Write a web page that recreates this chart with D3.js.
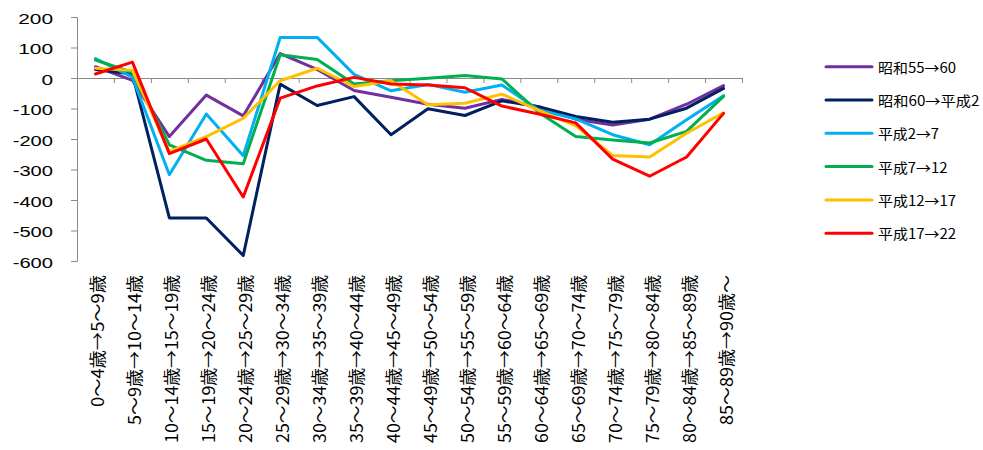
<!DOCTYPE html>
<html>
<head>
<meta charset="utf-8">
<script src="https://cdn.jsdelivr.net/npm/d3@7"></script>
<style>
  html, body { margin: 0; padding: 0; background: #fff; }
  svg { display: block; }
</style>
</head>
<body>
<svg id="chart" width="983" height="450"></svg>
<script>
// ---- data ----
const categories = [
  "0～4歳→5～9歳", "5～9歳→10～14歳", "10～14歳→15～19歳", "15～19歳→20～24歳",
  "20～24歳→25～29歳", "25～29歳→30～34歳", "30～34歳→35～39歳", "35～39歳→40～44歳",
  "40～44歳→45～49歳", "45～49歳→50～54歳", "50～54歳→55～59歳", "55～59歳→60～64歳",
  "60～64歳→65～69歳", "65～69歳→70～74歳", "70～74歳→75～79歳", "75～79歳→80～84歳",
  "80～84歳→85～89歳", "85～89歳→90歳～"
];
const seriesNames = ["昭和55→60", "昭和60→平成2", "平成2→7", "平成7→12", "平成12→17", "平成17→22"];
const s55to60   = [37, -8, -192, -56, -124, 80, 28, -41, -63, -86, -99, -70, -95, -135, -154, -135, -86, -25];
const s60toH2   = [28, 13, -459, -459, -582, -20, -90, -61, -186, -101, -123, -75, -94, -126, -145, -135, -99, -34];
const sH2to7    = [64, 3, -317, -118, -255, 133, 133, 12, -42, -21, -47, -23, -105, -134, -186, -219, -137, -58];
const sH7to12   = [59, 18, -219, -270, -281, 76, 61, -20, -9, -1, 8, -3, -113, -192, -203, -213, -175, -60];
const sH12to17  = [32, 25, -241, -192, -132, -9, 32, -28, -9, -88, -83, -53, -106, -157, -254, -259, -181, -114];
const sH17to22  = [13, 52, -248, -200, -390, -66, -26, 2, -20, -23, -32, -92, -118, -147, -266, -322, -259, -116];
const seriesValues = [s55to60, s60toH2, sH2to7, sH7to12, sH12to17, sH17to22];
const seriesColors = ["#7030A0", "#002060", "#00B0F0", "#00B050", "#FFC000", "#FF0000"];
const yTicks = [200, 100, 0, -100, -200, -300, -400, -500, -600];

// ---- layout ----
const svg = d3.select("#chart");
const plotLeft = 77, plotRight = 742, plotTop = 17, plotBottom = 261;
const x = d3.scaleBand().domain(categories).range([plotLeft, plotRight]).padding(0);
const xb = d3.scaleLinear().domain([0, categories.length]).range([plotLeft, plotRight]);
const y = d3.scaleLinear().domain([-600, 200]).range([plotBottom, plotTop]);
const axisColor = "#898989";
const cjk = "'Noto Sans CJK JP', 'Noto Sans', sans-serif";

// y axis
const yAxis = svg.append("g").attr("transform", `translate(${plotLeft},0)`)
  .call(d3.axisLeft(y).tickValues(yTicks).tickSize(6).tickSizeOuter(6).tickPadding(18)
    .tickFormat(d => String(d)));
yAxis.selectAll("path, line").attr("stroke", axisColor).attr("stroke-width", 1);
yAxis.selectAll("text")
  .attr("fill", "#000")
  .style("font-family", "'Liberation Sans', Arial, sans-serif")
  .style("font-size", "15px")
  .attr("dy", "0.42em")
  .each(function(d) {
    const s = String(d);
    const digits = s.replace("-", "").length;
    const len = digits * 11.6 + (s.startsWith("-") ? 5.5 : 0);
    d3.select(this).attr("textLength", len).attr("lengthAdjust", "spacingAndGlyphs");
  });

// x axis at y=0 with ticks at category boundaries
const xAxis = svg.append("g").attr("transform", `translate(0,${y(0)})`)
  .call(d3.axisBottom(xb).tickValues(d3.range(categories.length + 1)).tickSize(5).tickSizeOuter(0).tickFormat(""));
xAxis.selectAll("path, line").attr("stroke", axisColor).attr("stroke-width", 1);

// x labels (rotated)
svg.append("g").selectAll("text").data(categories).join("text")
  .attr("transform", d => `translate(${x(d) + x.bandwidth() / 2 + 1.5},275) rotate(-90)`)
  .attr("text-anchor", "end")
  .attr("dominant-baseline", "central")
  .style("font-family", cjk)
  .style("font-size", "17px")
  .attr("fill", "#000")
  .attr("textLength", d => {
    const digits = (d.match(/[0-9]/g) || []).length;
    return digits * 9 + (d.length - digits) * 19.2;
  })
  .attr("lengthAdjust", "spacingAndGlyphs")
  .text(d => d);

// lines
const line = d3.line()
  .x((d, i) => x(categories[i]) + x.bandwidth() / 2)
  .y(d => y(d));
svg.append("g").selectAll("path").data(seriesValues).join("path")
  .attr("d", d => line(d))
  .attr("fill", "none")
  .attr("stroke", (d, i) => seriesColors[i])
  .attr("stroke-width", 3)
  .attr("stroke-linejoin", "round")
  .attr("stroke-linecap", "round");

// legend
const legend = svg.append("g");
const lg = legend.selectAll("g").data(seriesNames).join("g")
  .attr("transform", (d, i) => `translate(826,${66.7 + i * 33.3})`);
lg.append("line").attr("x1", 0).attr("x2", 46).attr("y1", 0).attr("y2", 0)
  .attr("stroke", (d, i) => seriesColors[i]).attr("stroke-width", 3).attr("stroke-linecap", "round");
lg.append("text")
  .attr("x", 52).attr("y", 0)
  .attr("dominant-baseline", "central")
  .style("font-family", cjk)
  .style("font-size", "14px")
  .attr("fill", "#000")
  .attr("textLength", d => {
    const digits = (d.match(/[0-9]/g) || []).length;
    const arrows = (d.match(/→/g) || []).length;
    return digits * 8.5 + arrows * 12 + (d.length - digits - arrows) * 16;
  })
  .attr("lengthAdjust", "spacingAndGlyphs")
  .text(d => d);
</script>
</body>
</html>
